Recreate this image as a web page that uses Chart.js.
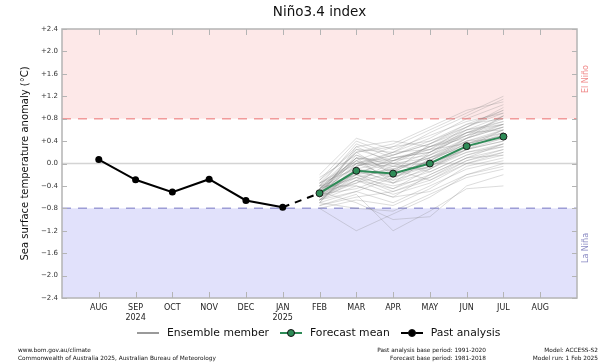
<!DOCTYPE html>
<html>
<head>
<meta charset="utf-8">
<script src="https://cdn.jsdelivr.net/npm/chart.js@4.4.1/dist/chart.umd.min.js"></script>
<style>
  html, body { margin: 0; padding: 0; background: #fff; }
  body { width: 607px; height: 364px; position: relative; overflow: hidden; font-family: "DejaVu Sans", sans-serif; }
  #wrap { position: absolute; left: 0; top: 0; width: 607px; height: 364px; }
  #title { position: absolute; top: 2px; font-size: 13.5px; line-height: 18px; color: #111; white-space: nowrap; transform: translateX(-50%); }
  .legend { position: absolute; top: 326px; left: 137px; display: flex; font-size: 10.8px; color: #111; white-space: nowrap; }
  .legend .item { display: flex; align-items: center; margin-right: 11px; }
  .legend .sw { position: relative; width: 22px; height: 12px; margin-right: 8px; }
  .legend .sw .ln { position: absolute; left: 0; right: 0; top: 5px; height: 0; border-top: 2px solid; }
  .legend .sw .dot { position: absolute; left: 7px; top: 2px; width: 6px; height: 6px; border-radius: 50%; border: 1px solid #111; }
  .foot { position: absolute; font-size: 5.8px; line-height: 8px; color: #111; white-space: nowrap; }
  .side { position: absolute; font-size: 8px; white-space: nowrap; transform: translate(-50%, -50%) rotate(-90deg); }
</style>
</head>
<body>
<div id="wrap"><canvas id="chart" width="607" height="364"></canvas></div>

<div id="title">Niño3.4 index</div>
<div class="side" id="elnino" style="color:#f08a8a;">El Niño</div>
<div class="side" id="lanina" style="color:#8c8cc4;">La Niña</div>

<div class="legend">
  <div class="item"><div class="sw"><div class="ln" style="border-color:#9a9a9a"></div></div>Ensemble member</div>
  <div class="item"><div class="sw"><div class="ln" style="border-color:#2e8b57"></div><div class="dot" style="background:#2e8b57"></div></div>Forecast mean</div>
  <div class="item"><div class="sw"><div class="ln" style="border-color:#000"></div><div class="dot" style="background:#000"></div></div>Past analysis</div>
</div>

<div class="foot" style="left:18px; top:346px;">www.bom.gov.au/climate<br>Commonwealth of Australia 2025, Australian Bureau of Meteorology</div>
<div class="foot" style="right:121px; top:346px; text-align:right;">Past analysis base period: 1991-2020<br>Forecast base period: 1981-2018</div>
<div class="foot" style="right:9px; top:346px; text-align:right;">Model: ACCESS-S2<br>Model run: 1 Feb 2025</div>

<script>
// months on the x axis, index 0 = AUG 2024 ... 12 = AUG 2025
const months = ['AUG', 'SEP', 'OCT', 'NOV', 'DEC', 'JAN', 'FEB', 'MAR', 'APR', 'MAY', 'JUN', 'JUL', 'AUG']
const yearLabels = { 1: '2024', 5: '2025' }
const yTickValues = [-2.4, -2.0, -1.6, -1.2, -0.8, -0.4, 0.0, 0.4, 0.8, 1.2, 1.6, 2.0, 2.4]
const elNinoThreshold = 0.8
const laNinaThreshold = -0.8

// observed, AUG..JAN
const pastMonths = [0, 1, 2, 3, 4, 5]
const pastAnalysis = [0.07, -0.29, -0.51, -0.28, -0.66, -0.78]

// forecast, FEB..JUL
const forecastMonths = [6, 7, 8, 9, 10, 11]
const forecastMean = [-0.53, -0.13, -0.18, 0.00, 0.31, 0.48]

// individual ensemble members, FEB..JUL
const ensembleMembers = [
  [-0.55, -0.10, -0.20, 0.05, 0.35, 0.50],
  [-0.60, -0.30, -0.45, -0.20, 0.10, 0.25],
  [-0.45, 0.10, 0.05, 0.25, 0.55, 0.80],
  [-0.70, -0.50, -0.70, -0.40, -0.10, 0.05],
  [-0.50, 0.20, 0.30, 0.40, 0.65, 0.90],
  [-0.40, 0.35, 0.10, 0.20, 0.50, 0.70],
  [-0.65, -0.20, -0.10, 0.10, 0.40, 0.55],
  [-0.35, 0.00, -0.25, -0.05, 0.20, 0.35],
  [-0.75, -0.60, -0.50, -0.30, 0.00, 0.20],
  [-0.55, -0.15, 0.00, 0.30, 0.60, 0.75],
  [-0.50, 0.05, -0.30, -0.10, 0.30, 0.45],
  [-0.60, -0.35, -0.15, 0.15, 0.45, 0.65],
  [-0.30, 0.25, 0.20, 0.45, 0.80, 1.05],
  [-0.80, -1.20, -0.90, -0.60, -0.20, -0.05],
  [-0.45, -0.05, 0.15, 0.35, 0.70, 0.95],
  [-0.65, -0.40, -0.60, -0.50, -0.20, 0.00],
  [-0.55, 0.15, -0.05, 0.00, 0.25, 0.40],
  [-0.40, -0.20, -0.35, -0.15, 0.15, 0.30],
  [-0.70, 0.00, 0.20, 0.55, 0.85, 1.15],
  [-0.50, -0.25, -0.40, -0.25, 0.05, 0.20],
  [-0.60, 0.30, 0.40, 0.30, 0.55, 0.60],
  [-0.35, -0.10, 0.05, 0.15, 0.40, 0.60],
  [-0.75, -0.55, -1.20, -0.85, -0.45, -0.40],
  [-0.45, 0.10, -0.10, 0.10, 0.45, 0.70],
  [-0.55, -0.45, -0.20, -0.05, 0.30, 0.50],
  [-0.20, 0.45, 0.25, 0.50, 0.75, 0.90],
  [-0.65, -0.30, -0.55, -0.35, 0.00, 0.15],
  [-0.50, -0.05, 0.10, 0.25, 0.35, 0.55],
  [-0.40, 0.20, -0.20, 0.05, 0.40, 0.45],
  [-0.60, -0.15, -0.30, 0.20, 0.60, 0.85],
  [-0.70, -0.80, -0.85, -0.55, -0.25, -0.10],
  [-0.45, 0.05, 0.30, 0.60, 0.90, 1.20],
  [-0.55, -0.20, -0.45, -0.10, 0.20, 0.30],
  [-0.35, 0.30, 0.00, -0.15, 0.15, 0.35],
  [-0.65, -0.10, -0.25, 0.00, 0.25, 0.55],
  [-0.50, -0.35, 0.05, 0.30, 0.50, 0.65],
  [-0.25, 0.15, -0.15, 0.15, 0.55, 0.75],
  [-0.80, -0.65, -0.75, -0.45, -0.05, 0.10],
  [-0.55, 0.00, 0.15, 0.40, 0.70, 0.80],
  [-0.45, -0.25, -0.10, -0.30, 0.05, 0.25],
  [-0.60, 0.10, -0.35, 0.10, 0.35, 0.60],
  [-0.40, -0.40, -0.60, -0.20, 0.10, 0.35],
  [-0.70, -0.05, 0.20, 0.25, 0.65, 1.00],
  [-0.30, 0.40, 0.15, 0.35, 0.60, 0.70],
  [-0.55, -0.30, -0.05, -0.10, 0.25, 0.45],
  [-0.50, -0.70, -1.00, -0.95, -0.40, -0.20],
  [-0.65, -0.15, -0.20, 0.05, 0.45, 0.65],
  [-0.45, 0.20, 0.35, 0.65, 0.95, 1.10],
  [-0.60, -0.25, -0.50, -0.25, 0.10, 0.15],
  [-0.40, 0.00, -0.05, 0.20, 0.50, 0.85],
  [-0.50, 0.10, 0.00, 0.10, 0.30, 0.60],
  [-0.60, -0.10, -0.35, -0.05, 0.25, 0.40],
  [-0.45, -0.20, 0.10, 0.20, 0.55, 0.70],
  [-0.55, 0.25, 0.05, 0.30, 0.45, 0.85],
  [-0.65, -0.50, -0.25, 0.05, 0.35, 0.50],
  [-0.35, 0.05, -0.15, 0.35, 0.65, 0.95],
]

const toPoints = (xs, ys) => ys.map((y, i) => ({ x: xs[i], y }))

function fmtAnomaly(v) {
  const r = Math.round(v * 10) / 10
  if (r === 0) return '0.0'
  return (r > 0 ? '+' : '\u2212') + Math.abs(r).toFixed(1)
}

// shaded El Niño / La Niña bands, zero line and threshold dashes
const bandsPlugin = {
  id: 'bands',
  beforeDatasetsDraw(chart) {
    const { ctx, chartArea: a, scales: { y } } = chart
    const yHi = y.getPixelForValue(elNinoThreshold)
    const yLo = y.getPixelForValue(laNinaThreshold)
    const y0 = y.getPixelForValue(0)
    ctx.save()
    ctx.fillStyle = '#fde8e8'
    ctx.fillRect(a.left, a.top, a.right - a.left, yHi - a.top)
    ctx.fillStyle = '#e1e1fb'
    ctx.fillRect(a.left, yLo, a.right - a.left, a.bottom - yLo)

    ctx.strokeStyle = '#d4d4d4'
    ctx.lineWidth = 1.5
    ctx.beginPath()
    ctx.moveTo(a.left, y0)
    ctx.lineTo(a.right, y0)
    ctx.stroke()

    ctx.setLineDash([9, 7])
    ctx.lineWidth = 1.5
    ctx.strokeStyle = '#f29a9a'
    ctx.beginPath()
    ctx.moveTo(a.left, yHi)
    ctx.lineTo(a.right, yHi)
    ctx.stroke()
    ctx.strokeStyle = '#9d9dd6'
    ctx.beginPath()
    ctx.moveTo(a.left, yLo)
    ctx.lineTo(a.right, yLo)
    ctx.stroke()
    ctx.restore()
  },
  // frame and inward tick marks on all four sides
  afterDraw(chart) {
    const { ctx, chartArea: a, scales: { x, y } } = chart
    ctx.save()
    ctx.strokeStyle = '#b4b4b4'
    ctx.lineWidth = 1
    ctx.beginPath()
    yTickValues.forEach(v => {
      const py = Math.round(y.getPixelForValue(v)) + 0.5
      ctx.moveTo(a.left, py); ctx.lineTo(a.left + 5, py)
      ctx.moveTo(a.right, py); ctx.lineTo(a.right - 5, py)
    })
    months.forEach((m, i) => {
      const px = Math.round(x.getPixelForValue(i)) + 0.5
      ctx.moveTo(px, a.bottom); ctx.lineTo(px, a.bottom - 6)
      ctx.moveTo(px, a.top); ctx.lineTo(px, a.top + 6)
    })
    ctx.stroke()
    ctx.lineWidth = 1.5
    ctx.strokeRect(a.left, a.top, a.right - a.left, a.bottom - a.top)
    ctx.restore()

    // place the title and side labels against the chart area
    const t = document.getElementById('title')
    t.style.left = (a.left + a.right) / 2 + 'px'
    const side = a.right + 8
    const el = document.getElementById('elnino')
    el.style.left = side + 'px'
    el.style.top = y.getPixelForValue(1.5) + 'px'
    const la = document.getElementById('lanina')
    la.style.left = side + 'px'
    la.style.top = y.getPixelForValue(-1.5) + 'px'
  },
}

const datasets = [
  {
    label: 'Past analysis',
    data: toPoints(pastMonths, pastAnalysis),
    borderColor: '#000',
    backgroundColor: '#000',
    borderWidth: 2,
    pointRadius: 3.5,
    pointBorderWidth: 0,
    order: 1,
  },
  {
    label: 'Forecast mean',
    data: toPoints(forecastMonths, forecastMean),
    borderColor: '#2e8b57',
    backgroundColor: '#2e8b57',
    pointBorderColor: '#1a1a1a',
    borderWidth: 2,
    pointRadius: 3.5,
    pointBorderWidth: 1,
    order: 0,
  },
  {
    label: 'transition',
    data: [
      { x: pastMonths[pastMonths.length - 1], y: pastAnalysis[pastAnalysis.length - 1] },
      { x: forecastMonths[0], y: forecastMean[0] },
    ],
    borderColor: '#000',
    borderWidth: 2,
    borderDash: [7, 6],
    pointRadius: 0,
    order: 2,
  },
  ...ensembleMembers.map((m, k) => ({
    label: 'member ' + (k + 1),
    data: toPoints(forecastMonths, m),
    borderColor: 'rgba(130, 130, 130, 0.28)',
    borderWidth: 1,
    pointRadius: 0,
    order: 10,
  })),
]

new Chart(document.getElementById('chart'), {
  type: 'line',
  data: { datasets },
  options: {
    responsive: false,
    animation: false,
    events: [],
    layout: { padding: { left: 0, right: 30, top: 29, bottom: 0 } },
    plugins: {
      legend: { display: false },
      tooltip: { enabled: false },
      title: { display: false },
    },
    scales: {
      x: {
        type: 'linear',
        min: -1,
        max: 13,
        grid: { display: false, drawTicks: false },
        border: { display: false },
        afterBuildTicks: s => { s.ticks = months.map((m, i) => ({ value: i })) },
        afterFit: s => { s.height = 66 },
        ticks: {
          autoSkip: false,
          maxRotation: 0,
          padding: 5,
          color: '#222',
          font: { family: 'DejaVu Sans', size: 8, lineHeight: 1.25 },
          callback: v => (yearLabels[v] ? [months[v], yearLabels[v]] : months[v]),
        },
      },
      y: {
        min: -2.4,
        max: 2.4,
        grid: { display: false, drawTicks: false },
        border: { display: false },
        afterBuildTicks: s => { s.ticks = yTickValues.map(v => ({ value: v })) },
        afterFit: s => { s.width = 62 },
        title: {
          display: true,
          text: 'Sea surface temperature anomaly (\u00b0C)',
          color: '#111',
          font: { family: 'DejaVu Sans', size: 10 },
          padding: { top: 19, bottom: 0 },
        },
        ticks: {
          padding: 4,
          color: '#333',
          font: { family: 'DejaVu Sans', size: 7 },
          callback: v => fmtAnomaly(v),
        },
      },
    },
  },
  plugins: [bandsPlugin],
})
</script>
</body>
</html>
